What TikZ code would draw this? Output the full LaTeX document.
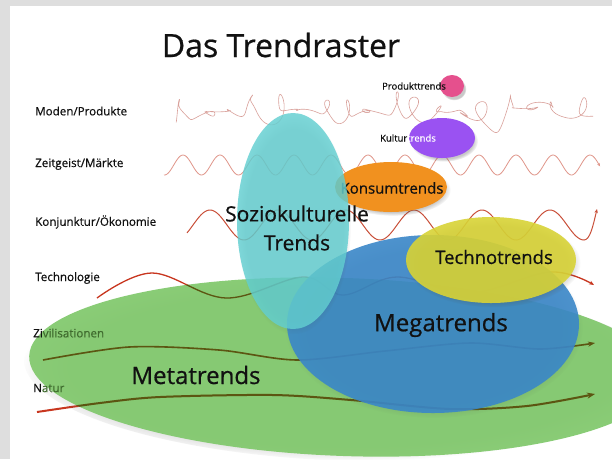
\documentclass[tikz,border=0pt]{standalone}
\usepackage{fontspec}
\setmainfont{Open Sans}[FakeBold=0.6]
\usetikzlibrary{arrows.meta,shadows,fadings}
\definecolor{bggray}{HTML}{DEDEDE}
\definecolor{modenc}{HTML}{D9A09A}
\definecolor{zeitc}{HTML}{E0968A}
\definecolor{konjc}{HTML}{C9503A}
\definecolor{techc}{HTML}{C8361F}
\definecolor{natc}{HTML}{C8361F}
\definecolor{olivec}{HTML}{5C5512}
\definecolor{metagreen}{HTML}{80C86B}
\definecolor{megablue}{HTML}{3A87C8}
\definecolor{sozcyan}{HTML}{62CFD1}
\definecolor{konsorange}{HTML}{F1911F}
\definecolor{techyellow}{HTML}{D8D336}
\definecolor{kultpurple}{HTML}{9A52F2}
\definecolor{prodpink}{HTML}{E5508D}
\definecolor{txtdark}{HTML}{111111}
\definecolor{labgreen}{HTML}{3F6B2E}
\tikzset{
  rowlab/.style={anchor=west, inner sep=0pt, text=txtdark, font=\fontsize{11.6}{14}\selectfont},
  bigtxt/.style={inner sep=0pt, text=txtdark},
  modenline/.style={draw=modenc, line width=0.6pt},
  zeitline/.style={draw=zeitc, line width=0.8pt, -{Stealth[length=3pt,width=3pt]}},
  konjline/.style={draw=konjc, line width=1pt, -{Stealth[length=4pt,width=3.5pt]}},
  techline/.style={draw=techc, line width=1.3pt, -{Stealth[length=5pt,width=4pt]}},
  zivline/.style={draw=natc, line width=1.6pt, -{Stealth[length=7pt,width=5pt]}},
  natline/.style={draw=natc, line width=2pt, -{Stealth[length=8pt,width=6pt]}},
  softshadow/.style={circular drop shadow={shadow xshift=2pt, shadow yshift=-3pt, shadow scale=1.03, opacity=0.3, fill=black!70}},
  bigshadow/.style={circular drop shadow={shadow xshift=1pt, shadow yshift=-3pt, shadow scale=1.02, opacity=0.22, fill=black!70}},
}
\def\pathZeit{plot[domain=164:600, samples=300] (\x, {165-10*cos((\x-183)/37*360)})}
\def\pathKonj{plot[domain=187:584, samples=200] (\x, {225-15*cos((\x-210)/68*360)}) .. controls (590,240) and (593,226) .. (597,209)}
\def\pathTech{plot[smooth, tension=0.6] coordinates {(97,298) (152,273) (226,298) (303,277) (343,295) (397,277) (470,293) (550,272) (594,285)}}
\def\pathZiv{plot[smooth] coordinates {(43,360) (129,347) (219,350) (297,360) (385,351) (470,343) (540,349) (595,343)}}
\def\pathNat{plot[smooth] coordinates {(37,412) (100,403) (160,397) (273,395) (351,400) (450,409) (527,406) (595,394)}}
\begin{document}
\begin{tikzpicture}[x=1pt,y=-1pt,
  declare function={
    thq(\t)=\t+1.2*sin(deg(0.37*\t));
    rxq(\t)=7+3*sin(deg(0.43*\t+2))+2*sin(deg(1.3*\t));
    ryq(\t)=5+8*sin(deg(0.29*\t+0.5))+3*sin(deg(0.9*\t))+13*max(0,sin(deg(0.21*\t+1.2)))^6;
  }]
\useasboundingbox (0,0) rectangle (612,459);
\fill[bggray] (0,0) rectangle (612,459);
\fill[white] (10,6) rectangle (612,459);

% row labels
\node[rowlab] (lmoden) at (35,111) {Moden/Produkte};
\node[rowlab] (lzeit) at (35,164) {Zeitgeist/Märkte};
\node[rowlab] (lkonj) at (35,222) {Konjunktur/Ökonomie};
\node[rowlab] (ltech) at (35,278) {Technologie};

% trend lines
\draw[modenline] plot[domain=3.1416:117, samples=1300, variable=\t]
  ({172+3.7*(\t-3.1416) - rxq(\t)*sin(deg(thq(\t)))},
   {110+3*sin(deg(0.17*\t)) - ryq(\t)*cos(deg(thq(\t)))});
\draw[zeitline] \pathZeit;
\draw[konjline] \pathKonj;
\draw[techline] \pathTech;
\draw[zivline] \pathZiv;
\draw[natline] \pathNat;

% Metatrends ellipse
\fill[metagreen, fill opacity=0.92, bigshadow, rotate around={-2:(345,367)}] (345,367) ellipse [x radius=316pt, y radius=89pt];
\begin{scope}
  \clip[rotate around={-2:(345,367)}] (345,367) ellipse [x radius=316pt, y radius=89pt];
  \draw[techline, draw=olivec] \pathTech;
  \draw[zivline, draw=olivec] \pathZiv;
  \draw[natline, draw=olivec] \pathNat;
\end{scope}
\node[rowlab] (lziv) at (33,333) {Zi\textcolor{labgreen}{vilisationen}};
\node[rowlab] (lnat) at (33,388) {N\textcolor{labgreen}{atur}};

% Megatrends
\fill[megablue, fill opacity=0.9, bigshadow] (433,324) ellipse [x radius=146pt, y radius=89pt];
% Konsumtrends
\fill[konsorange, softshadow] (391,187) ellipse [x radius=56pt, y radius=25pt];
\node[bigtxt, font=\fontsize{15}{18}\selectfont] (tkons) at (392,188) {Konsumtrends};
% Soziokulturelle
\fill[sozcyan, fill opacity=0.82, bigshadow] (293,221) ellipse [x radius=56pt, y radius=108pt];
% Technotrends
\fill[techyellow, fill opacity=0.9, softshadow] (491,260) ellipse [x radius=85pt, y radius=43pt];
% Kulturtrends
\fill[kultpurple, softshadow] (442,138) ellipse [x radius=33pt, y radius=20pt];
% Produkttrends
\fill[prodpink, softshadow] (452,86) ellipse [x radius=12pt, y radius=11pt];

% texts
\node[bigtxt, font=\fontsize{32}{36}\selectfont] (title) at (281,45) {Das Trendraster};
\node[bigtxt, font=\fontsize{9.5}{12}\selectfont] (tprod) at (414,86) {Produkttrends};
\node[bigtxt, font=\fontsize{9.5}{12}\selectfont] (tkult) at (408,138) {Kultur\textcolor{white}{trends}};
\node[bigtxt, font=\fontsize{21}{29}\selectfont, align=center] (tsoz) at (297,228) {Soziokulturelle\\Trends};
\node[bigtxt, font=\fontsize{18.5}{22}\selectfont] (ttech) at (494,257) {Technotrends};
\node[bigtxt, font=\fontsize{24}{28}\selectfont] (tmega) at (441,325) {Megatrends};
\node[bigtxt, font=\fontsize{24}{28}\selectfont] (tmeta) at (196,375) {Metatrends};
\end{tikzpicture}
\end{document}
